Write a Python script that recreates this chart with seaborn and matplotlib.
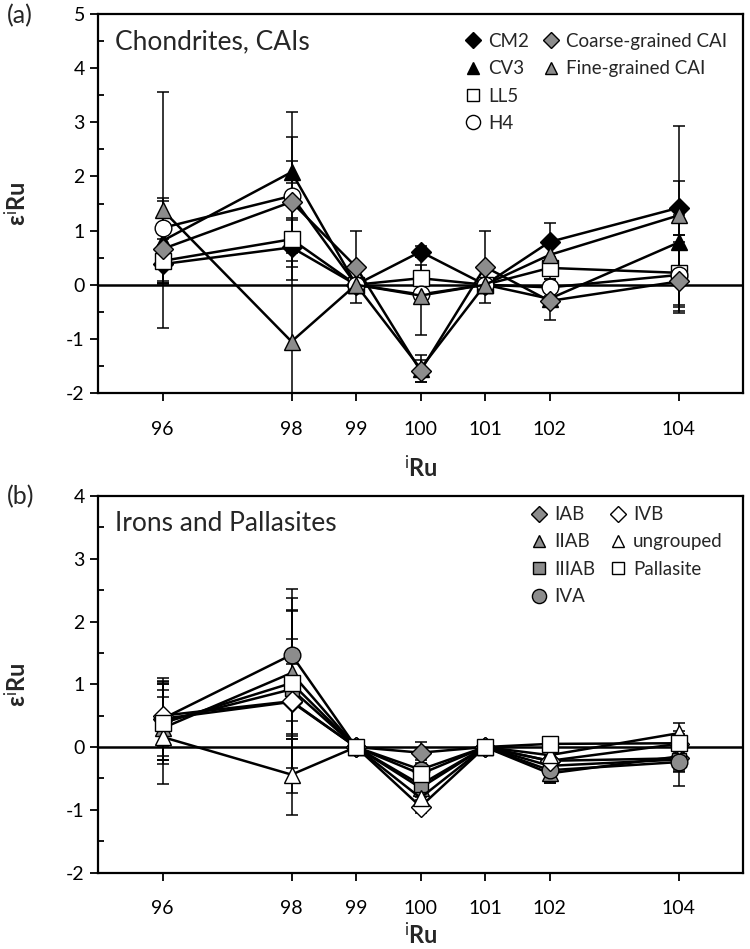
import numpy as np
import pandas as pd
import matplotlib
matplotlib.use("Agg")
import matplotlib.pyplot as plt
import seaborn as sns
from matplotlib.lines import Line2D
from matplotlib.ticker import MultipleLocator

# ---------------- data ----------------
isotopes = [96, 98, 99, 100, 101, 102, 104]
tick_labels = ["96", "98", "99", "100", "101", "102", "104"]

# Panel (a): chondrites, CAIs
cm2 = [0.38, 0.69, 0.0, 0.61, 0.0, 0.79, 1.42]
cm2_err = [0.35, 0.10, 0.0, 0.10, 0.0, 0.35, 0.50]
cv3 = [0.81, 2.08, 0.0, -1.55, 0.0, -0.26, 0.78]
cv3_err = [0.80, 0.20, 0.0, 0.25, 0.0, 0.10, 0.50]
ll5 = [0.44, 0.84, 0.0, 0.12, 0.0, 0.31, 0.22]
ll5_err = [0.40, 0.40, 0.0, 0.25, 0.0, 0.20, 0.70]
h4 = [1.05, 1.64, 0.0, -0.18, 0.0, -0.05, 0.18]
h4_err = [0.50, 1.55, 0.0, 0.15, 0.0, 0.15, 0.60]
coarse_cai = [0.66, 1.53, 0.33, -1.59, 0.33, -0.30, 0.06]
coarse_cai_err = [0.60, 1.20, 0.66, 0.20, 0.66, 0.35, 0.58]
fine_cai = [1.38, -1.05, 0.0, -0.20, 0.0, 0.55, 1.28]
fine_cai_err = [2.18, 2.25, 0.0, 0.72, 0.0, 0.30, 1.65]

# Panel (b): irons and pallasites
iab = [0.45, 0.72, 0.0, -0.09, 0.0, -0.22, -0.18]
iab_err = [0.65, 1.45, 0.0, 0.17, 0.0, 0.20, 0.20]
iiab = [0.30, 1.18, 0.0, -0.65, 0.0, -0.42, -0.15]
iiab_err = [0.50, 1.00, 0.0, 0.15, 0.0, 0.15, 0.20]
iiiab = [0.40, 0.92, 0.0, -0.60, 0.0, -0.30, -0.20]
iiiab_err = [0.60, 0.80, 0.0, 0.15, 0.0, 0.15, 0.20]
iva = [0.45, 1.47, 0.0, -0.36, 0.0, -0.37, -0.24]
iva_err = [0.60, 1.05, 0.0, 0.15, 0.0, 0.20, 0.38]
ivb = [0.50, 0.73, 0.0, -0.95, 0.0, -0.22, 0.05]
ivb_err = [0.50, 0.60, 0.0, 0.10, 0.0, 0.10, 0.15]
ungrouped = [0.16, -0.44, 0.0, -0.81, 0.0, -0.13, 0.22]
ungrouped_err = [0.75, 0.65, 0.0, 0.10, 0.0, 0.10, 0.16]
pallasite = [0.38, 1.02, 0.0, -0.43, 0.0, 0.05, 0.06]
pallasite_err = [0.65, 1.35, 0.0, 0.12, 0.0, 0.10, 0.20]

GRAY = "#8c8c8c"
WHITE = "#ffffff"
BLACK = "#000000"

series_a = [
    ("CM2", cm2, cm2_err, "D", BLACK, 10),
    ("CV3", cv3, cv3_err, "^", BLACK, 11),
    ("LL5", ll5, ll5_err, "s", WHITE, 11),
    ("H4", h4, h4_err, "o", WHITE, 12),
    ("Coarse-grained CAI", coarse_cai, coarse_cai_err, "D", GRAY, 10),
    ("Fine-grained CAI", fine_cai, fine_cai_err, "^", GRAY, 11),
]
series_b = [
    ("IAB", iab, iab_err, "D", GRAY, 10),
    ("IIAB", iiab, iiab_err, "^", GRAY, 11),
    ("IIIAB", iiiab, iiiab_err, "s", GRAY, 10),
    ("IVA", iva, iva_err, "o", GRAY, 12),
    ("IVB", ivb, ivb_err, "D", WHITE, 10),
    ("ungrouped", ungrouped, ungrouped_err, "^", WHITE, 11),
    ("Pallasite", pallasite, pallasite_err, "s", WHITE, 11),
]

# ---------------- style ----------------
sns.set_theme(style="ticks")
plt.rcParams["font.family"] = ["Lato", "DejaVu Sans"]
plt.rcParams["mathtext.fontset"] = "custom"
plt.rcParams["mathtext.rm"] = "Lato"
plt.rcParams["mathtext.it"] = "Lato:italic"
plt.rcParams["mathtext.bf"] = "Lato:bold"
plt.rcParams["axes.unicode_minus"] = False

fig = plt.figure(figsize=(7.5, 9.49), dpi=100)
ax_a = fig.add_axes([0.1307, 0.5859, 0.86, 0.3993])
ax_b = fig.add_axes([0.1307, 0.0806, 0.86, 0.3967])


def draw_panel(ax, series, ylim, title, legend_anchor, xlabelpad):
    ax.axhline(0, color="black", lw=1.8, zorder=1)
    for name, vals, errs, mk, fc, ms in series:
        e = np.array(errs, dtype=float)
        e[e == 0] = np.nan
        ax.errorbar(isotopes, vals, yerr=e, fmt="none", ecolor="black",
                    elinewidth=1.1, capsize=4, capthick=1.1, zorder=2)
    for name, vals, errs, mk, fc, ms in series:
        df = pd.DataFrame({"x": isotopes, "y": vals})
        sns.lineplot(data=df, x="x", y="y", ax=ax, color="black", lw=1.8,
                     marker=mk, markersize=ms, markerfacecolor=fc,
                     markeredgecolor="black", markeredgewidth=1.0,
                     legend=False, errorbar=None, zorder=3)
    ax.set_xlim(95, 105)
    ax.set_ylim(*ylim)
    ax.set_xticks(isotopes)
    ax.set_xticklabels(tick_labels)
    ax.yaxis.set_major_locator(MultipleLocator(1))
    ax.yaxis.set_minor_locator(MultipleLocator(0.5))
    ax.tick_params(axis="both", which="major", direction="out", length=6,
                   width=1.3, labelsize=14, color="black", labelcolor="black")
    ax.tick_params(axis="x", which="major", pad=14)
    ax.tick_params(axis="y", which="minor", direction="in", length=4,
                   width=1.3, color="black")
    for sp in ax.spines.values():
        sp.set_linewidth(1.6)
        sp.set_color("black")
    ax.set_xlabel(r"$^{\mathrm{i}}$Ru", fontsize=17, fontweight="bold",
                  labelpad=xlabelpad)
    ax.set_ylabel(r"ε$^{\mathrm{i}}$Ru", fontsize=17, fontweight="bold")
    ax.yaxis.set_label_coords(-0.105, 0.5)
    ax.text(0.027, 0.928, title, transform=ax.transAxes, fontsize=19,
            va="center", ha="left")
    handles = []
    labels = []
    for name, vals, errs, mk, fc, ms in series:
        handles.append(Line2D([], [], marker=mk, linestyle="none",
                              markersize=ms * 0.85, markerfacecolor=fc,
                              markeredgecolor="black", markeredgewidth=1.0))
        labels.append(name)
    while len(handles) < 8:
        handles.append(Line2D([], [], linestyle="none"))
        labels.append("")
    ax.legend(handles, labels, ncol=2, loc="upper left",
              bbox_to_anchor=legend_anchor, frameon=False, fontsize=13.5,
              handletextpad=0.2, columnspacing=0.6, labelspacing=0.55,
              handlelength=1.2, borderaxespad=0)


draw_panel(ax_a, series_a, (-2, 5), "Chondrites, CAIs", (0.552, 0.97), 12)
draw_panel(ax_b, series_b, (-2, 4), "Irons and Pallasites", (0.655, 0.993), 3)

fig.text(0.027, 0.983, "(a)", fontsize=18, ha="center", va="center")
fig.text(0.027, 0.477, "(b)", fontsize=18, ha="center", va="center")

fig.savefig("out.png", dpi=100)
